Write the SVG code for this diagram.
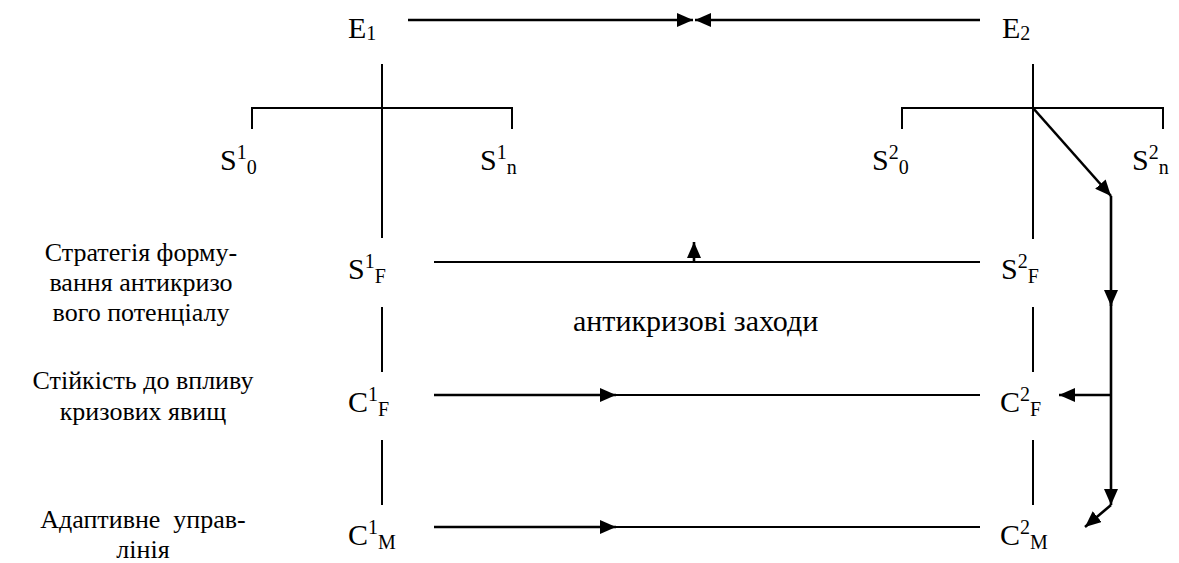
<svg xmlns="http://www.w3.org/2000/svg" width="1179" height="563" viewBox="0 0 1179 563" font-family="Liberation Serif, Tinos, Noto Serif, DejaVu Serif, Times New Roman, serif">
<style>
text{font-size:30px;fill:#000}
.lbl{text-anchor:middle;font-size:26px}
.sub{font-size:20px}
line,polyline{stroke:#000;fill:none;stroke-width:2}
.thick{stroke-width:2.6}
.thin{stroke-width:1.8}
</style>
<defs>
<marker id="ah" markerUnits="userSpaceOnUse" markerWidth="16" markerHeight="14" refX="16" refY="7" orient="auto" viewBox="0 0 16 14">
<path d="M0,0 L16,7 L0,14 z" fill="#000"/>
</marker>
</defs>
<rect width="1179" height="563" fill="#fff"/>

<g id="connectors">
<line class="thick" x1="408" y1="20" x2="693" y2="20" marker-end="url(#ah)"/>
<line class="thick" x1="980" y1="20" x2="695" y2="20" marker-end="url(#ah)"/>
<line x1="382" y1="64" x2="382" y2="238"/>
<line x1="382" y1="307" x2="382" y2="372"/>
<line x1="382" y1="440" x2="382" y2="505"/>
<polyline points="252,129 252,108 512,108 512,129"/>
<line x1="1033" y1="64" x2="1033" y2="239"/>
<line x1="1033" y1="307" x2="1033" y2="372"/>
<line x1="1033" y1="440" x2="1033" y2="505"/>
<polyline points="902,129 902,108 1163,108 1163,129"/>
<line class="thick" x1="1033" y1="108" x2="1111" y2="196" marker-end="url(#ah)"/>
<line class="thick" x1="1111" y1="196" x2="1111" y2="306" marker-end="url(#ah)"/>
<line class="thick" x1="1111" y1="300" x2="1111" y2="505" marker-end="url(#ah)"/>
<line class="thick" x1="1111" y1="395" x2="1059" y2="395" marker-end="url(#ah)"/>
<line class="thick" x1="1111" y1="505" x2="1085" y2="527" marker-end="url(#ah)"/>
<line class="thin" x1="434" y1="262" x2="980" y2="262"/>
<line class="thick" x1="694" y1="262" x2="694" y2="242" marker-end="url(#ah)"/>
<line class="thick" x1="434" y1="395" x2="616" y2="395" marker-end="url(#ah)"/>
<line class="thin" x1="614" y1="395" x2="980" y2="395"/>
<line class="thick" x1="434" y1="527" x2="616" y2="527" marker-end="url(#ah)"/>
<line class="thin" x1="614" y1="527" x2="980" y2="527"/>
</g>

<g id="E1"><text x="348" y="38">E<tspan class="sub" dy="2">1</tspan></text></g>
<g id="E2"><text x="1002" y="38">E<tspan class="sub" dy="2">2</tspan></text></g>
<g id="S1_0"><text x="220" y="170">S<tspan class="sub" dy="-11">1</tspan><tspan class="sub" dy="15">0</tspan></text></g>
<g id="S1_n"><text x="480" y="170">S<tspan class="sub" dy="-11">1</tspan><tspan class="sub" dy="15">n</tspan></text></g>
<g id="S2_0"><text x="872" y="170">S<tspan class="sub" dy="-11">2</tspan><tspan class="sub" dy="15">0</tspan></text></g>
<g id="S2_n"><text x="1132" y="170">S<tspan class="sub" dy="-11">2</tspan><tspan class="sub" dy="15">n</tspan></text></g>
<g id="S1_F"><text x="348" y="279">S<tspan class="sub" dy="-11">1</tspan><tspan class="sub" dy="15">F</tspan></text></g>
<g id="S2_F"><text x="1001" y="279">S<tspan class="sub" dy="-11">2</tspan><tspan class="sub" dy="15">F</tspan></text></g>
<g id="C1_F"><text x="348" y="412">C<tspan class="sub" dy="-11">1</tspan><tspan class="sub" dy="15">F</tspan></text></g>
<g id="C2_F"><text x="1000" y="412">C<tspan class="sub" dy="-11">2</tspan><tspan class="sub" dy="15">F</tspan></text></g>
<g id="C1_M"><text x="348" y="545">C<tspan class="sub" dy="-11">1</tspan><tspan class="sub" dy="15">M</tspan></text></g>
<g id="C2_M"><text x="1000" y="545">C<tspan class="sub" dy="-11">2</tspan><tspan class="sub" dy="15">M</tspan></text></g>
<g id="measures"><text x="573" y="331">антикризові заходи</text></g>
<g id="label-strategy">
<text class="lbl" x="141" y="261">Стратегія форму-</text>
<text class="lbl" x="141" y="291">вання антикризо</text>
<text class="lbl" x="141" y="321">вого потенціалу</text>
</g>
<g id="label-stability">
<text class="lbl" x="143" y="389">Стійкість до впливу</text>
<text class="lbl" x="143" y="420">кризових явищ</text>
</g>
<g id="label-adaptive">
<text class="lbl" x="143" y="528" xml:space="preserve">Адаптивне  управ-</text>
<text class="lbl" x="143" y="558">лінія</text>
</g>
</svg>
